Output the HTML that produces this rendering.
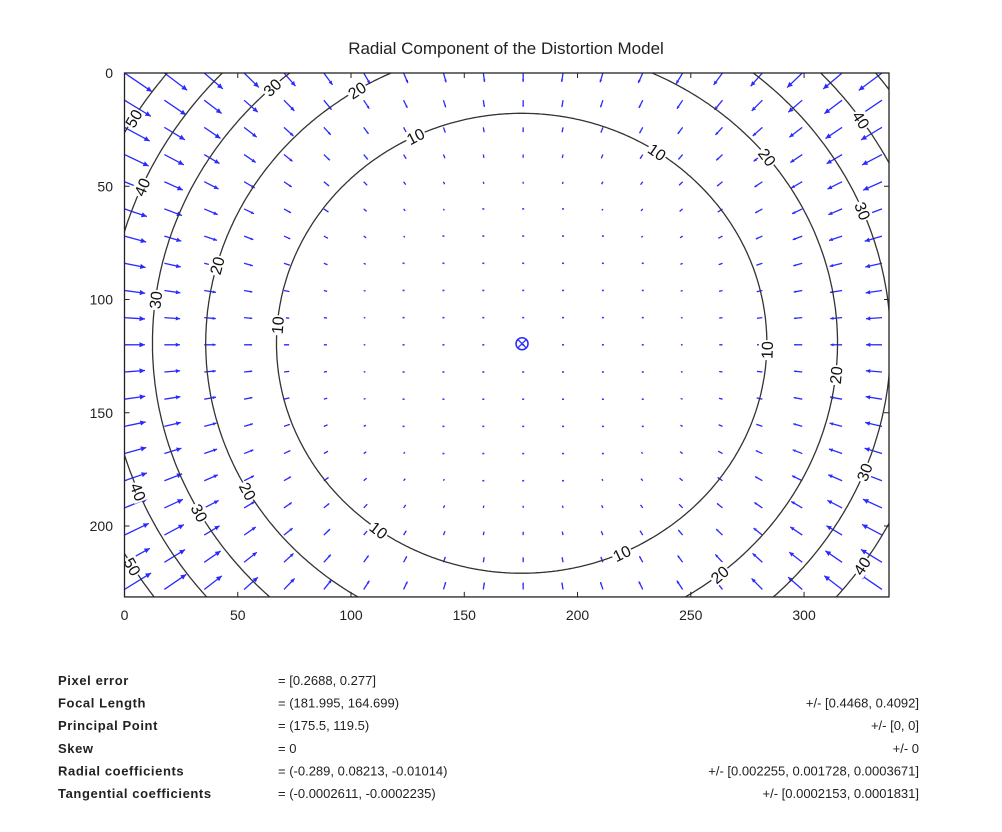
<!DOCTYPE html>
<html><head><meta charset="utf-8"><style>
html,body{margin:0;padding:0;background:#fff;width:1002px;height:832px;overflow:hidden}
svg{display:block}
</style></head><body>
<svg id="chart" width="1002" height="832" xmlns="http://www.w3.org/2000/svg" font-family="'Liberation Sans', Arial, sans-serif">
<text x="506" y="54" font-size="17" text-anchor="middle" fill="#222">Radial Component of the Distortion Model</text>
<defs><clipPath id="pc"><rect x="124.5" y="73" width="764.5" height="524"/></clipPath></defs>
<g id="arrows" clip-path="url(#pc)"></g>
<g id="contours" clip-path="url(#pc)"></g>
<g id="labels" clip-path="url(#pc)"></g>
<g id="axes"></g>
<g id="info" font-size="13" fill="#222"></g>
</svg>
<script>
// calibration parameters (data)
const focal = [181.995, 164.699];
const principal = [175.5, 119.5];
const radialK = [-0.289, 0.08213, -0.01014];
const tangentialP = [-0.0002611, -0.0002235];
const contourLevels = [10, 20, 30, 40, 50];
const xTicks = [0, 50, 100, 150, 200, 250, 300];
const yTicks = [0, 50, 100, 150, 200];
const xMax = 337.5, yMax = 231.3;
const gridStepX = 17.6, gridStepY = 12;
// contour label anchor directions (screen points) and levels
const labelLevels = [50,50,40,40,40,40,30,30,30,30,30,20,20,20,20,20,20,10,10,10,10,10,10];
const labelDirs = [[133,118],[130,568],[137,185],[143,490],[876,110],[868,570],[265,80],[155,300],[205,510],[878,205],[880,478],[360,95],[215,265],[250,490],[770,155],[835,375],[720,575],[420,145],[275,325],[375,535],[655,155],[763,350],[625,560]];

const NS="http://www.w3.org/2000/svg";
const X0=124.5, Y0=73, S=(889-124.5)/xMax;
const sx=u=>X0+u*S, sy=v=>Y0+v*S;
function el(tag,attrs,parent){const e=document.createElementNS(NS,tag);for(const k in attrs)e.setAttribute(k,attrs[k]);parent.appendChild(e);return e;}
function disp(u,v){
  const x=(u-principal[0])/focal[0], y=(v-principal[1])/focal[1];
  const r2=x*x+y*y;
  const D=radialK[0]*r2+radialK[1]*r2*r2+radialK[2]*r2*r2*r2;
  const dx=x*D+2*tangentialP[0]*x*y+tangentialP[1]*(r2+2*x*x);
  const dy=y*D+tangentialP[0]*(r2+2*y*y)+2*tangentialP[1]*x*y;
  return [dx*focal[0], dy*focal[1]];
}
const mag=(u,v)=>{const d=disp(u,v);return Math.hypot(d[0],d[1]);};
function radiusAt(th,level){
  const c=Math.cos(th),s=Math.sin(th);
  for(let t=1;t<500;t+=1){
    if(mag(principal[0]+t*c,principal[1]+t*s)>=level){
      let a=t-1,b=t;for(let i=0;i<25;i++){const m=(a+b)/2;if(mag(principal[0]+m*c,principal[1]+m*s)>=level)b=m;else a=m;}
      return (a+b)/2;}
  }
  return null;
}
// arrows
const ag=document.getElementById('arrows');
const AS=0.25*S;
for(let u=0;u<=xMax;u+=gridStepX){for(let v=0;v<=yMax;v+=gridStepY){
  const d=disp(u,v);const x1=sx(u),y1=sy(v),x2=x1+d[0]*AS,y2=y1+d[1]*AS;
  const L=Math.hypot(x2-x1,y2-y1);
  const g=el('g',{},ag);
  
  
  if(L<1.5){el('line',{x1:x1-1,y1:y1,x2:x1+1,y2:y1,stroke:'#3a3aff','stroke-width':1.6},g);continue;}
  el('line',{x1,y1,x2,y2,stroke:'#2a2aff','stroke-width':1.3},g);
  const ang=Math.atan2(y2-y1,x2-x1),h=Math.min(6,L*0.3);
  const p=[[x2,y2],[x2-h*Math.cos(ang-0.45),y2-h*Math.sin(ang-0.45)],[x2-h*Math.cos(ang+0.45),y2-h*Math.sin(ang+0.45)]];
  el('polygon',{points:p.map(q=>q.join(',')).join(' '),fill:'#2a2aff'},g);
}}
// contours
const cg=document.getElementById('contours');
contourLevels.forEach(lv=>{
  let d='';
  for(let i=0;i<=720;i++){const th=i/720*2*Math.PI;const r=radiusAt(th,lv);if(r===null)continue;
    const u=principal[0]+r*Math.cos(th),v=principal[1]+r*Math.sin(th);d+=(d?'L':'M')+sx(u).toFixed(1)+','+sy(v).toFixed(1);}
  const p=el('path',{d,fill:'none',stroke:'#333','stroke-width':1.3},cg);
  
  
});
// labels
const lg=document.getElementById('labels');
const cxs=sx(principal[0]),cys=sy(principal[1]);
labelDirs.forEach((pt,i)=>{
  const lv=labelLevels[i];const th=Math.atan2(pt[1]-cys,pt[0]-cxs);const r=radiusAt(th,lv);if(r===null)return;
  const X=sx(principal[0]+r*Math.cos(th)),Y=sy(principal[1]+r*Math.sin(th));
  let rot=th*180/Math.PI+90;while(rot>90)rot-=180;while(rot<-90)rot+=180;
  const g=el('g',{transform:`translate(${X.toFixed(1)},${Y.toFixed(1)}) rotate(${rot.toFixed(1)})`},lg);
  el('rect',{x:-10,y:-8,width:20,height:16,fill:'#fff'},g);
  const t=el('text',{x:0,y:6,'font-size':16,'text-anchor':'middle',fill:'#111'},g);
  t.textContent=String(lv);
  
  
});
// principal point marker
const mk=el('g',{},lg);


el('circle',{cx:cxs,cy:cys,r:6,fill:'none',stroke:'#2a2aff','stroke-width':1.5},mk);
el('path',{d:`M${cxs-4},${cys-4}L${cxs+4},${cys+4}M${cxs+4},${cys-4}L${cxs-4},${cys+4}`,stroke:'#2a2aff','stroke-width':1.3},mk);
// axes
const axg=document.getElementById('axes');
el('rect',{x:X0,y:Y0,width:sx(xMax)-X0,height:sy(yMax)-Y0,fill:'none',stroke:'#222','stroke-width':1.3},axg);
const B=sy(yMax),R=sx(xMax);
xTicks.forEach(t=>{const x=sx(t);
  el('path',{d:`M${x},${B}V${B-5}M${x},${Y0}V${Y0+5}`,stroke:'#222'},axg);
  const tx=el('text',{x,y:B+23,'font-size':14,'text-anchor':'middle',fill:'#222'},axg);tx.textContent=t;
  
  });
yTicks.forEach(t=>{const y=sy(t);
  el('path',{d:`M${X0},${y}H${X0+5}M${R},${y}H${R-5}`,stroke:'#222'},axg);
  const tx=el('text',{x:113,y:y+5,'font-size':14,'text-anchor':'end',fill:'#222'},axg);tx.textContent=t;
  
  });
// info text
const rows=[["Pixel error","= [0.2688, 0.277]",""],["Focal Length","= (181.995, 164.699)","+/- [0.4468, 0.4092]"],["Principal Point"," = (175.5, 119.5)","+/- [0, 0]"],["Skew","= 0","+/- 0"],["Radial coefficients","= (-0.289, 0.08213, -0.01014)","+/- [0.002255, 0.001728, 0.0003671]"],["Tangential coefficients","= (-0.0002611, -0.0002235)","+/- [0.0002153, 0.0001831]"]];
const ig=document.getElementById('info');
rows.forEach((r,i)=>{const y=685+i*22.6;
  const a=el('text',{x:58,y,'font-weight':'bold','letter-spacing':'0.6'},ig);a.textContent=r[0];
  
  
  const b=el('text',{x:278,y,'xml:space':'preserve'},ig);b.textContent=r[1];
  
  
  if(r[2]){const c=el('text',{x:919,y,'text-anchor':'end'},ig);c.textContent=r[2];
  
  }
});
</script>
</body></html>
